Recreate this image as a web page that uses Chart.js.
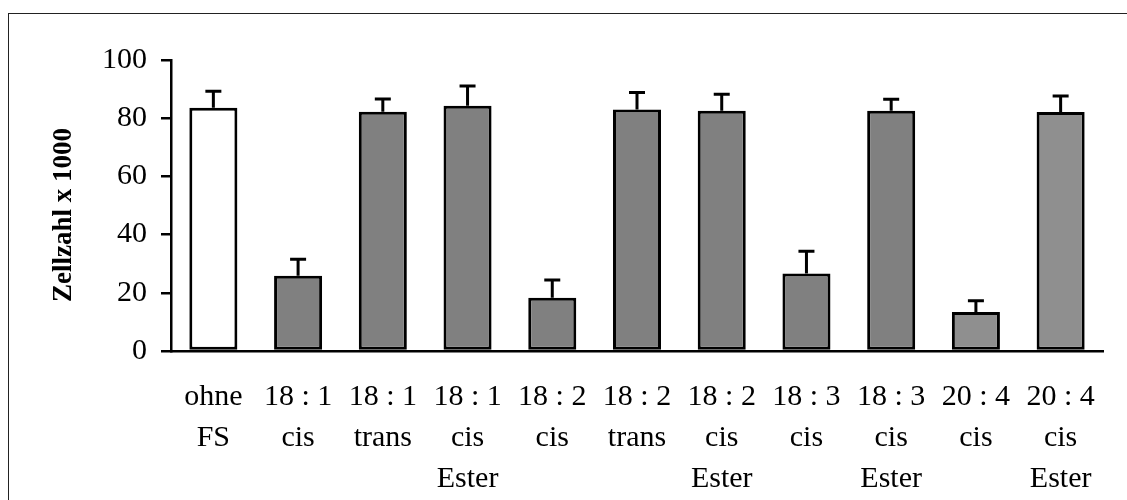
<!DOCTYPE html>
<html>
<head>
<meta charset="utf-8">
<script src="https://cdn.jsdelivr.net/npm/chart.js@4/dist/chart.umd.min.js"></script>
<style>
  html, body { margin: 0; padding: 0; background: #fff; }
  canvas { display: block; }
</style>
</head>
<body>
<canvas id="c" width="1127" height="500"></canvas>
<script>
// Fatty-acid treatments (multi-line category labels)
const categories = [
  ['ohne', 'FS'],
  ['18 : 1', 'cis'],
  ['18 : 1', 'trans'],
  ['18 : 1', 'cis', 'Ester'],
  ['18 : 2', 'cis'],
  ['18 : 2', 'trans'],
  ['18 : 2', 'cis', 'Ester'],
  ['18 : 3', 'cis'],
  ['18 : 3', 'cis', 'Ester'],
  ['20 : 4', 'cis'],
  ['20 : 4', 'cis', 'Ester']
];
// Mean cell count (x 1000) and upper error (SD)
const cellCounts = [83.6, 25.9, 82.2, 84.3, 18.3, 83.0, 82.6, 26.6, 82.6, 13.4, 82.1];
const errorUpper = [5.7, 5.6, 4.4, 6.8, 6.1, 5.8, 5.6, 7.7, 3.9, 3.9, 5.5];
const yTicks = [0, 20, 40, 60, 80, 100];
const barColors = ['#ffffff', '#808080', '#808080', '#808080', '#808080', '#808080',
                   '#808080', '#808080', '#808080', '#8f8f8f', '#8f8f8f'];

const SERIF = '"Liberation Serif", "Times New Roman", serif';

// Frame around the whole figure
const framePlugin = {
  id: 'frame',
  beforeDraw(chart) {
    const ctx = chart.ctx;
    ctx.save();
    ctx.fillStyle = '#fff';
    ctx.fillRect(0, 0, chart.width, chart.height);
    ctx.strokeStyle = '#222';
    ctx.lineWidth = 1;
    ctx.strokeRect(8.5, 13.5, 1130, 520);
    ctx.restore();
  }
};

// Upward error bars with caps
const errorBarPlugin = {
  id: 'errorBars',
  afterDatasetsDraw(chart) {
    const ctx = chart.ctx;
    const meta = chart.getDatasetMeta(0);
    const y = chart.scales.y;
    ctx.save();
    ctx.strokeStyle = '#000';
    ctx.lineWidth = 3;
    meta.data.forEach((bar, i) => {
      const x = bar.x;
      const yTop = y.getPixelForValue(cellCounts[i]);
      const yErr = y.getPixelForValue(cellCounts[i] + errorUpper[i]);
      ctx.beginPath();
      ctx.moveTo(x, yTop);
      ctx.lineTo(x, yErr);
      ctx.moveTo(x - 8, yErr);
      ctx.lineTo(x + 8, yErr);
      ctx.stroke();
    });
    ctx.restore();
  }
};

// Rotated bold y-axis title
const yTitlePlugin = {
  id: 'yTitle',
  afterDraw(chart) {
    const ctx = chart.ctx;
    ctx.save();
    ctx.translate(64, 215);
    ctx.rotate(-Math.PI / 2);
    ctx.font = 'bold 27px ' + SERIF;
    ctx.fillStyle = '#000';
    ctx.textAlign = 'center';
    ctx.textBaseline = 'middle';
    ctx.fillText('Zellzahl x 1000', 0, 0);
    ctx.restore();
  }
};

new Chart(document.getElementById('c'), {
  type: 'bar',
  data: {
    labels: categories,
    datasets: [{
      data: cellCounts,
      backgroundColor: barColors,
      borderColor: '#000',
      borderWidth: 3,
      borderSkipped: false,
      categoryPercentage: 1,
      barPercentage: 0.567
    }]
  },
  options: {
    responsive: false,
    devicePixelRatio: 1,
    animation: false,
    layout: { padding: { left: 0, top: 60, right: 24, bottom: 0 } },
    plugins: {
      legend: { display: false },
      tooltip: { enabled: false }
    },
    scales: {
      x: {
        grid: { display: false, drawTicks: false },
        border: { display: true, color: '#000', width: 2.5 },
        ticks: {
          color: '#000',
          font: { family: SERIF, size: 30, lineHeight: 1.36 },
          padding: 26,
          maxRotation: 0,
          autoSkip: false
        },
        afterFit(scale) { scale.height = 149; }
      },
      y: {
        min: 0,
        max: 100,
        afterBuildTicks(scale) { scale.ticks = yTicks.map(v => ({ value: v })); },
        grid: { display: true, drawOnChartArea: false, drawTicks: true, tickLength: 10, color: '#000', lineWidth: 2.5 },
        border: { display: true, color: '#000', width: 2.5 },
        ticks: {
          color: '#000',
          font: { family: SERIF, size: 30 },
          padding: 14
        },
        afterFit(scale) { scale.width = 171; }
      }
    }
  },
  plugins: [framePlugin, errorBarPlugin, yTitlePlugin]
});
</script>
</body>
</html>
